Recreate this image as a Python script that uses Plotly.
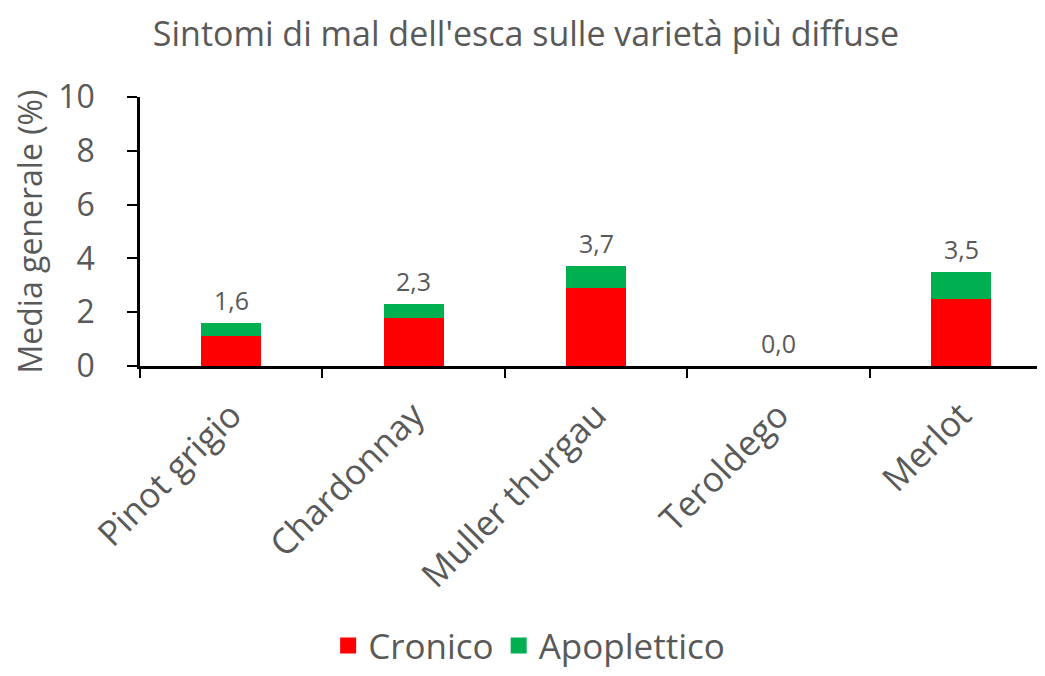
import plotly.graph_objects as go

categories = ["Pinot grigio", "Chardonnay", "Muller thurgau", "Teroldego", "Merlot"]
cronico = [1.1, 1.8, 2.9, 0.0, 2.5]
apoplettico = [0.5, 0.5, 0.8, 0.0, 1.0]
totals = [1.6, 2.3, 3.7, 0.0, 3.5]
y_ticks = [0, 2, 4, 6, 8, 10]

FONT = "Open Sans"
GREY = "#595959"
RED = "#FF0000"
GREEN = "#00B050"

fig = go.Figure()
fig.add_trace(go.Bar(x=categories, y=cronico, name="Cronico", marker=dict(color=RED, line=dict(width=0)),
                     width=0.33, showlegend=False))
fig.add_trace(go.Bar(x=categories, y=apoplettico, name="Apoplettico", marker=dict(color=GREEN, line=dict(width=0)),
                     width=0.33, showlegend=False))
# legend entries with larger square swatches
fig.add_trace(go.Scatter(x=[None], y=[None], mode="markers", name="Cronico",
                         marker=dict(symbol="square", size=25, color=RED)))
fig.add_trace(go.Scatter(x=[None], y=[None], mode="markers", name="Apoplettico",
                         marker=dict(symbol="square", size=25, color=GREEN)))

for c, t in zip(categories, totals):
    fig.add_annotation(x=c, y=t, text=f"{t:.1f}".replace(".", ","), showarrow=False,
                       yanchor="bottom", yshift=4, font=dict(family=FONT, size=25, color=GREY))

fig.update_layout(
    barmode="stack",
    width=1037, height=668,
    plot_bgcolor="white", paper_bgcolor="white",
    margin=dict(l=132, r=0, t=89, b=304),
    title=dict(text="Sintomi di mal dell'esca sulle varietà più diffuse", x=0.4995, xref="container",
               xanchor="center", y=0.961, yref="container", yanchor="middle",
               font=dict(family=FONT, size=34, color=GREY)),
    font=dict(family=FONT, color=GREY),
    legend=dict(orientation="h", x=0.43, xanchor="center", y=-1.04, yanchor="middle",
                font=dict(family=FONT, size=35, color=GREY), traceorder="normal", itemsizing="trace"),
    showlegend=True,
)
fig.update_xaxes(range=[-0.5, 4.46], showline=True, linecolor="black", linewidth=2.5,
                 ticks="outside", tickson="boundaries", ticklen=9, tickwidth=2, tickcolor="black",
                 tickangle=-45, tickfont=dict(family=FONT, size=35, color=GREY), showgrid=False,
                 ticklabelstandoff=12)
fig.update_yaxes(range=[0, 10], tickvals=y_ticks, showline=True, linecolor="black", linewidth=2.5,
                 ticks="outside", ticklen=10, tickwidth=2, tickcolor="black", showgrid=False,
                 zeroline=False, tickfont=dict(family=FONT, size=32, color=GREY), ticklabelstandoff=26,
                 title=dict(text="Media generale (%)", font=dict(family=FONT, size=32, color=GREY), standoff=10))

fig.write_html("out.html")
